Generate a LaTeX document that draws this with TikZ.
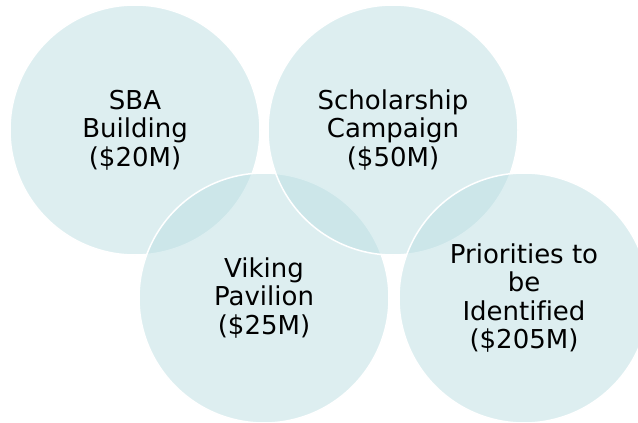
\documentclass[tikz,border=0pt]{standalone}
\usepackage{fontspec}
\setmainfont[Ligatures=NoCommon]{DejaVu Sans}
\usepackage{tikz}
\usetikzlibrary{positioning}
\definecolor{bubblefill}{RGB}{187,222,226}

\begin{document}
\begin{tikzpicture}[x=1pt, y=-1pt,
	bubble/.style={circle, minimum size=250pt, inner sep=0pt,
		fill=bubblefill, fill opacity=.5, text opacity=1,
		draw=white, line width=1.5pt, align=center,
		font=\fontsize{26}{28.5}\selectfont}]
	\useasboundingbox (0,0) rectangle (638,423);
	% drawn back to front, so the later rims lie on top
	\node[bubble] (sba) at (135,130) {SBA\\Building\\(\$20M)};
	\node[bubble] (viking) at (264,298) {Viking\\Pavilion\\(\$25M)};
	\node[bubble] (scholar) at (393,130) {Scholarship\\Campaign\\(\$50M)};
	\node[bubble] (priority) at (524,298) {Priorities to\\be\\Identified\\(\$205M)};
\end{tikzpicture}
\end{document}
